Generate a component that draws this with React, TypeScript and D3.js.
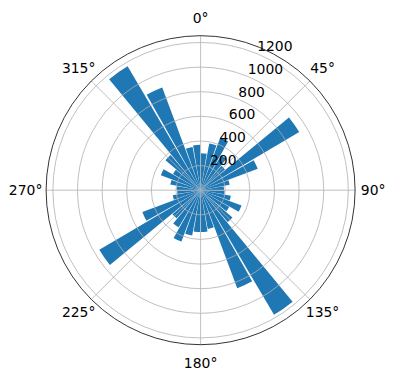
import React from "react";
import * as d3 from "d3";

const binCenters = [5,15,25,35,45,55,65,75,85,95,105,115,125,135,145,155,165,175,185,195,205,215,225,235,245,255,265,275,285,295,305,315,325,335,345,355];
const counts = [300,385,455,330,260,930,495,240,190,195,250,355,270,340,1175,850,320,340,340,375,445,350,300,955,505,230,190,195,250,345,260,375,1168,890,357,369];
const radialTicks = [200,400,600,800,1000,1200];
const angleTicks = [0,45,90,135,180,225,270,315];

const W = 396, H = 380;
const cx = 200.6, cy = 190.2, R = 154.5;
const rMax = 1255;
const barWidthDeg = 9;

export default function App() {
  const r = d3.scaleLinear().domain([0, rMax]).range([0, R]);
  const rad = (d: number) => (d * Math.PI) / 180;
  const arc = d3.arc<any>();
  const font = "DejaVu Sans, sans-serif";
  return (
    <svg width={W} height={H} style={{ position: "absolute", left: 0, top: 0, background: "#fff" }}>
      <g transform={`translate(${cx},${cy})`}>
        {binCenters.map((a, i) => (
          <path
            key={i}
            d={arc({ innerRadius: 0, outerRadius: r(counts[i]), startAngle: rad(a - barWidthDeg / 2), endAngle: rad(a + barWidthDeg / 2) }) || ""}
            fill="#1f77b4"
          />
        ))}
        {radialTicks.map((t) => (
          <circle key={t} r={r(t)} fill="none" stroke="#b0b0b0" strokeWidth={0.8} />
        ))}
        {angleTicks.map((a) => (
          <line key={a} x1={0} y1={0} x2={R * Math.sin(rad(a))} y2={-R * Math.cos(rad(a))} stroke="#b0b0b0" strokeWidth={0.8} />
        ))}
        <circle r={R} fill="none" stroke="#000" strokeWidth={0.8} />
        {angleTicks.map((a) => {
          const d = a === 270 ? 175 : a === 90 ? 172.5 : 172.5;
          const x = d * Math.sin(rad(a));
          const y = -d * Math.cos(rad(a));
          return (
            <text key={a} x={x} y={y} dy="0.36em" textAnchor="middle" fontFamily={font} fontSize={13.9} fill="#000">
              {`${a}°`}
            </text>
          );
        })}
        {radialTicks.map((t) => {
          const x = r(t) * Math.sin(rad(22.5));
          const y = -r(t) * Math.cos(rad(22.5));
          return (
            <text key={t} x={x} y={y - 2.5} textAnchor="start" fontFamily={font} fontSize={13.9} fill="#000">
              {t}
            </text>
          );
        })}
      </g>
    </svg>
  );
}
